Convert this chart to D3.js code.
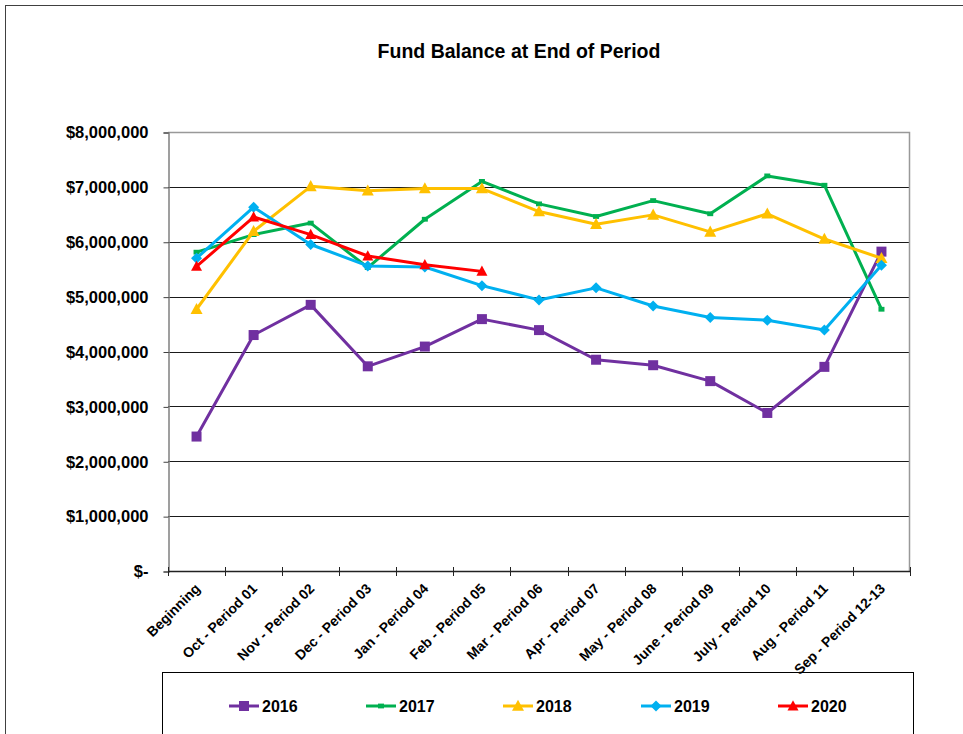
<html>
<head>
<meta charset="utf-8">
<script src="https://d3js.org/d3.v7.min.js"></script>
<style>
  body { margin: 0; background: #fff; }
  text { font-family: "Liberation Sans", Arial, sans-serif; font-weight: bold; fill: #000; }
</style>
</head>
<body>
<div id="chartContainer"></div>
<script>
// periods along the x axis
var periods = ["Beginning", "Oct - Period 01", "Nov - Period 02", "Dec - Period 03",
  "Jan - Period 04", "Feb - Period 05", "Mar - Period 06", "Apr - Period 07",
  "May - Period 08", "June - Period 09", "July - Period 10", "Aug - Period 11",
  "Sep - Period 12-13"];

// fund balance per year
var fy2016 = [2450000, 4300000, 4850000, 3730000, 4090000, 4590000, 4390000, 3850000, 3750000, 3460000, 2880000, 3720000, 5820000];
var fy2017 = [5810000, 6130000, 6340000, 5530000, 6410000, 7100000, 6690000, 6460000, 6750000, 6510000, 7200000, 7030000, 4770000];
var fy2018 = [4770000, 6190000, 7010000, 6930000, 6970000, 6970000, 6550000, 6320000, 6490000, 6180000, 6510000, 6050000, 5700000];
var fy2019 = [5700000, 6630000, 5950000, 5560000, 5540000, 5200000, 4940000, 5160000, 4830000, 4620000, 4570000, 4390000, 5570000];
var fy2020 = [5550000, 6450000, 6130000, 5740000, 5580000, 5460000];

var yTicks = [0, 1000000, 2000000, 3000000, 4000000, 5000000, 6000000, 7000000, 8000000];
var years = ["2016", "2017", "2018", "2019", "2020"];

var series = [
  { name: "2016", values: fy2016, color: "#7030A0", marker: "square", size: 10 },
  { name: "2017", values: fy2017, color: "#00B050", marker: "smallsquare", size: 6 },
  { name: "2018", values: fy2018, color: "#FFC000", marker: "triangle", size: 12 },
  { name: "2019", values: fy2019, color: "#00B0F0", marker: "diamond", size: 11 },
  { name: "2020", values: fy2020, color: "#FF0000", marker: "triangle", size: 11 }
];

var W = 963, H = 734;
var svg = d3.select("#chartContainer").append("svg")
  .attr("width", W).attr("height", H);

// outer chart frame (runs off the right and bottom edges)
svg.append("rect")
  .attr("x", 5.5).attr("y", 5.5)
  .attr("width", 980).attr("height", 760)
  .attr("fill", "#fff").attr("stroke", "#404040").attr("stroke-width", 1);

var plot = { left: 168, right: 910, top: 132, bottom: 571 };

var x = d3.scaleBand().domain(periods).range([plot.left, plot.right]).padding(0);
var y = d3.scaleLinear().domain([0, 8000000]).range([plot.bottom, plot.top]);

// title
svg.append("text")
  .attr("x", 519).attr("y", 58)
  .style("text-anchor", "middle")
  .style("font-size", "19.5px")
  .text("Fund Balance at End of Period");

// gridlines
svg.append("g").selectAll("line").data(yTicks.slice(1)).join("line")
  .attr("x1", plot.left).attr("x2", plot.right)
  .attr("y1", function (d) { return Math.round(y(d)) + 0.5; })
  .attr("y2", function (d) { return Math.round(y(d)) + 0.5; })
  .attr("stroke", "#1a1a1a").attr("stroke-width", 1);

// plot border top/right
svg.append("path")
  .attr("d", "M" + plot.left + "," + (plot.top + 0.5) + "H" + (plot.right - 0.5) + "V" + plot.bottom)
  .attr("fill", "none").attr("stroke", "#999").attr("stroke-width", 1.5);

// y axis
var fmt = d3.format(",");
var yAxis = d3.axisLeft(y).tickValues(yTicks).tickSize(5).tickPadding(15)
  .tickFormat(function (d) { return d === 0 ? "$-" : "$" + fmt(d); });
var gy = svg.append("g").attr("transform", "translate(" + (plot.left + 0.5) + ",0.5)").call(yAxis);
gy.select(".domain").attr("stroke", "#808080").attr("stroke-width", 1.5);
gy.selectAll(".tick line").attr("stroke", "#404040");
gy.selectAll("text").style("font-size", "16.5px").style("font-family", "'Liberation Sans', Arial, sans-serif").attr("fill", "#000");

// x axis: ticks sit on the category boundaries
var boundaries = d3.range(periods.length + 1).map(function (i) { return plot.left + i * x.bandwidth(); });
var gx = svg.append("g");
gx.append("line")
  .attr("x1", plot.left).attr("x2", plot.right)
  .attr("y1", plot.bottom + 0.5).attr("y2", plot.bottom + 0.5)
  .attr("stroke", "#222").attr("stroke-width", 1.5);
gx.selectAll("line.tk").data(boundaries).join("line").attr("class", "tk")
  .attr("x1", function (d) { return Math.round(d) + 0.5; })
  .attr("x2", function (d) { return Math.round(d) + 0.5; })
  .attr("y1", plot.bottom - 4).attr("y2", plot.bottom + 5)
  .attr("stroke", "#222");

// marker shapes
function markerPath(type, s) {
  var h = s / 2;
  if (type === "square" || type === "smallsquare") {
    var hh = type === "smallsquare" ? h * 0.8 : h;
    return "M" + (-h) + "," + (-hh) + "H" + h + "V" + hh + "H" + (-h) + "Z";
  }
  if (type === "triangle") return "M0," + (-h * 1.05) + "L" + h + "," + (h * 0.8) + "L" + (-h) + "," + (h * 0.8) + "Z";
  if (type === "diamond") return "M0," + (-h) + "L" + h + ",0L0," + h + "L" + (-h) + ",0Z";
}

var line = d3.line()
  .x(function (d, i) { return x(periods[i]) + x.bandwidth() / 2; })
  .y(function (d) { return y(d); });

series.forEach(function (s) {
  var g = svg.append("g");
  g.append("path")
    .attr("d", line(s.values))
    .attr("fill", "none").attr("stroke", s.color)
    .attr("stroke-width", 3).attr("stroke-linejoin", "round");
  g.selectAll("path.mk").data(s.values).join("path").attr("class", "mk")
    .attr("transform", function (d, i) {
      return "translate(" + (x(periods[i]) + x.bandwidth() / 2) + "," + y(d) + ")";
    })
    .attr("d", markerPath(s.marker, s.size))
    .attr("fill", s.color);
});

// legend box
svg.append("rect")
  .attr("x", 162.5).attr("y", 672.5)
  .attr("width", 751).attr("height", 100)
  .attr("fill", "#fff").attr("stroke", "#000").attr("stroke-width", 1);

var legendX = [244, 381, 518, 656, 793];
var legendY = 706;
series.forEach(function (s, i) {
  var g = svg.append("g").attr("transform", "translate(" + legendX[i] + "," + legendY + ")");
  g.append("line").attr("x1", -15).attr("x2", 15)
    .attr("stroke", s.color).attr("stroke-width", 3);
  g.append("path").attr("d", markerPath(s.marker, s.size)).attr("fill", s.color);
  g.append("text").attr("x", 18).attr("dy", "0.36em")
    .style("font-size", "16px").text(years[i]);
});

// category labels, drawn last so the long one is not hidden by the legend box
svg.append("g").selectAll("text").data(periods).join("text")
  .attr("transform", function (d) {
    return "translate(" + (x(d) + x.bandwidth() / 2 + 1) + "," + (plot.bottom + 15) + ") rotate(-45)";
  })
  .attr("dy", "0.35em")
  .style("text-anchor", "end")
  .style("font-size", "14px")
  .text(function (d) { return d; });
</script>
</body>
</html>
